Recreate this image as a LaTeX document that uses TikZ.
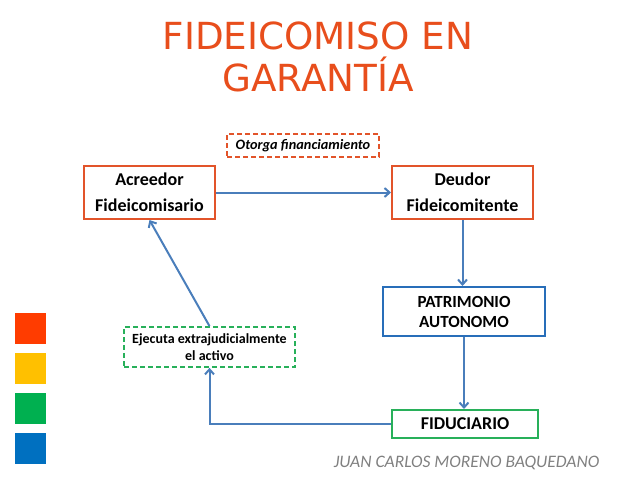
\documentclass[tikz,border=0pt]{standalone}
\usepackage{fontspec}
\setmainfont{Carlito}
\newfontfamily\titlefont{DejaVu Sans}
\usetikzlibrary{arrows.meta, positioning}

\definecolor{titleorange}{RGB}{232,78,28}
\definecolor{boxorange}{RGB}{226,84,42}
\definecolor{arrowblue}{RGB}{74,126,187}
\definecolor{boxblue}{RGB}{40,110,185}
\definecolor{boxgreen}{RGB}{40,176,90}
\definecolor{sqred}{RGB}{255,60,0}
\definecolor{sqyellow}{RGB}{255,192,0}
\definecolor{sqgreen}{RGB}{0,176,80}
\definecolor{sqblue}{RGB}{0,112,192}

\begin{document}
\begin{tikzpicture}[
    x=1pt, y=-1pt,
    party/.style={draw=boxorange, line width=2pt, align=center, inner sep=0pt, font=\bfseries\fontsize{18}{26}\selectfont},
    entity/.style={draw=boxblue, line width=2pt, align=center, inner sep=0pt, font=\bfseries\fontsize{17}{20}\selectfont},
    trustee/.style={draw=boxgreen, line width=2pt, align=center, inner sep=0pt, font=\bfseries\fontsize{18}{20}\selectfont},
    note/.style={draw, dashed, dash pattern=on 5pt off 3pt, line width=1.8pt, align=center, inner sep=0pt},
    swatch/.style={minimum size=31pt, inner sep=0pt},
    arr/.style={-{Straight Barb[length=5pt, width=9pt]}, line width=2pt, draw=arrowblue},
]
\useasboundingbox (0,0) rectangle (638,479);

% title
\node[text=titleorange, align=center, font=\titlefont\fontsize{37.3}{42}\selectfont] (title) at (318,57) {FIDEICOMISO EN\\GARANTÍA};

% boxes
\node[party, minimum width=131pt, minimum height=53pt] (acreedor) at (149.5,192.5) {Acreedor\\Fideicomisario};
\node[party, minimum width=141pt, minimum height=53pt] (deudor) at (462.5,192.5) {Deudor\\Fideicomitente};
\node[note, draw=boxorange, minimum width=152pt, minimum height=23pt, font=\bfseries\itshape\fontsize{14.3}{16}\selectfont] (otorga) at (303,145.5) {Otorga financiamiento};
\node[entity, minimum width=162pt, minimum height=49pt] (patrimonio) at (464,311.5) {PATRIMONIO\\AUTONOMO};
\node[trustee, minimum width=146pt, minimum height=28pt] (fiduciario) at (465,424) {FIDUCIARIO};
\node[note, draw=boxgreen, minimum width=171pt, minimum height=40pt, font=\bfseries\fontsize{14}{17}\selectfont] (ejecuta) at (209.5,347) {Ejecuta extrajudicialmente\\el activo};

% connectors
\draw[arr] (acreedor) -- (deudor);
\draw[arr] (deudor.south) -- (deudor.south |- patrimonio.north);
\draw[arr] (patrimonio.south) -- (patrimonio.south |- fiduciario.north);
\draw[arr] (fiduciario.west) -| (ejecuta.south);
\draw[arr] (ejecuta.north) -- (acreedor.south);

% colour squares
\node[swatch, fill=sqred] (sq1) at (30,328.5) {};
\node[swatch, fill=sqyellow] (sq2) at (30,368.5) {};
\node[swatch, fill=sqgreen] (sq3) at (30,408.5) {};
\node[swatch, fill=sqblue] (sq4) at (30,448) {};

% author
\node[text=black!50, font=\itshape\fontsize{17.5}{20}\selectfont] (author) at (466.5,463) {JUAN CARLOS MORENO BAQUEDANO};

\end{tikzpicture}
\end{document}
